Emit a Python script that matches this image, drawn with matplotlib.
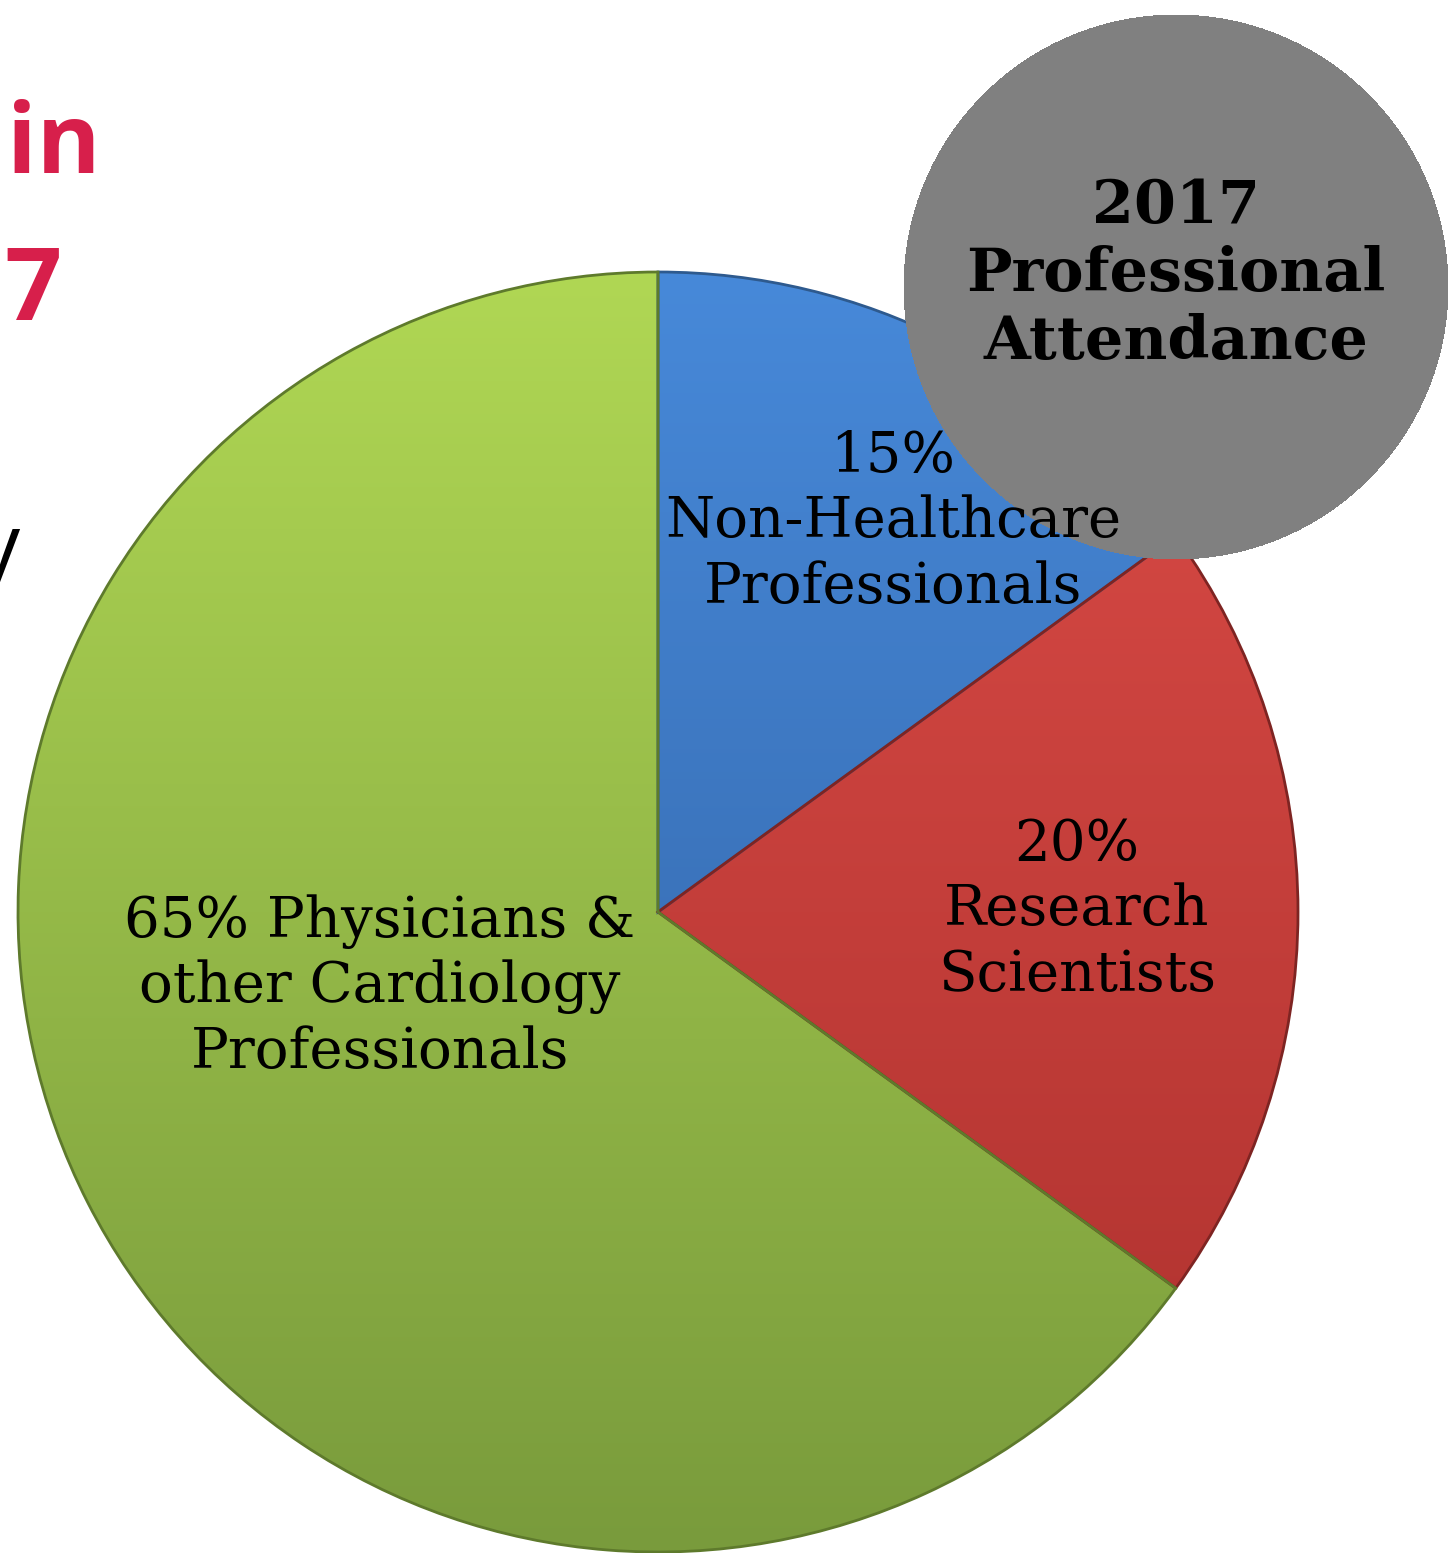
import numpy as np
import matplotlib
matplotlib.use("Agg")
import matplotlib.pyplot as plt
from matplotlib.patches import Circle
from matplotlib.colors import to_rgb

# ---- data ----
categories = ["Non-Healthcare Professionals", "Research Scientists",
              "Physicians & other Cardiology Professionals"]
shares = [15, 20, 65]
label_texts = ["15%\nNon-Healthcare\nProfessionals",
               "20%\nResearch\nScientists",
               "65% Physicians &\nother Cardiology\nProfessionals"]
title_text = "2017\nProfessional\nAttendance"

# ---- style ----
colors = ["#3F7FCC", "#C63E3B", "#97BC47"]
top_colors = ["#4789D9", "#DB4C47", "#B0D754"]
bottom_colors = ["#2F5E9E", "#AC302D", "#799B3C"]
edge_colors = ["#2E5A8E", "#7E2422", "#5E7A2C"]

W, H = 1449, 1553
fig = plt.figure(figsize=(W / 100, H / 100), dpi=100)
ax = fig.add_axes([0, 0, 1, 1])

cx, cy, R = 658, H - 912, 640

wedges, _ = ax.pie(shares, colors=colors, startangle=90, counterclock=False,
                   center=(cx, cy), radius=R, frame=True,
                   wedgeprops=dict(edgecolor="none", linewidth=0))
ax.set_xlim(0, W)
ax.set_ylim(0, H)
ax.set_aspect("equal")
ax.axis("off")

# gradient shading clipped to each wedge
ny = 256
tt = np.linspace(0, 1, ny)[:, None]
for w, tc, bc, ec in zip(wedges, top_colors, bottom_colors, edge_colors):
    top = np.array(to_rgb(tc)); bot = np.array(to_rgb(bc))
    grad = top[None, :] * (1 - tt) + bot[None, :] * tt
    img = np.repeat(grad[:, None, :], 4, axis=1)
    im = ax.imshow(img, extent=(cx - R, cx + R, cy - R, cy + R), origin="upper",
                   aspect="auto", zorder=1, interpolation="bilinear")
    im.set_clip_path(w)
    w.set_facecolor("none")
    w.set_edgecolor(ec)
    w.set_linewidth(2.0)
    w.set_zorder(2)

serif = ["DejaVu Serif"]
label_pos = [(893, 522), (1077, 910), (380, 987)]
for txt, (x, y) in zip(label_texts, label_pos):
    ax.text(x, H - y, txt, ha="center", va="center", fontsize=40.5,
            family=serif, color="black", linespacing=1.25, zorder=5)

# gray badge
ax.add_patch(Circle((1176, H - 287), 272, facecolor="#808080", edgecolor="none",
                    antialiased=False, zorder=4))
ax.text(1176, H - 274, title_text, ha="center", va="center", fontsize=43.5,
        family=serif, fontweight="bold", color="black", linespacing=1.22, zorder=6)

# cropped slide text at the left edge
ax.text(101, H - 173, "in", ha="right", va="baseline", fontsize=70,
        family=["Open Sans", "DejaVu Sans"], fontweight="bold", color="#D71F4B", zorder=6)
ax.text(62, H - 320, "17", ha="right", va="baseline", fontsize=72,
        family=["Open Sans", "DejaVu Sans"], fontweight="bold", color="#D71F4B", zorder=6)
ax.text(20, H - 575, "y", ha="right", va="baseline", fontsize=62,
        family=["Open Sans", "DejaVu Sans"], color="black", zorder=6)

fig.savefig("out.png", dpi=100)
